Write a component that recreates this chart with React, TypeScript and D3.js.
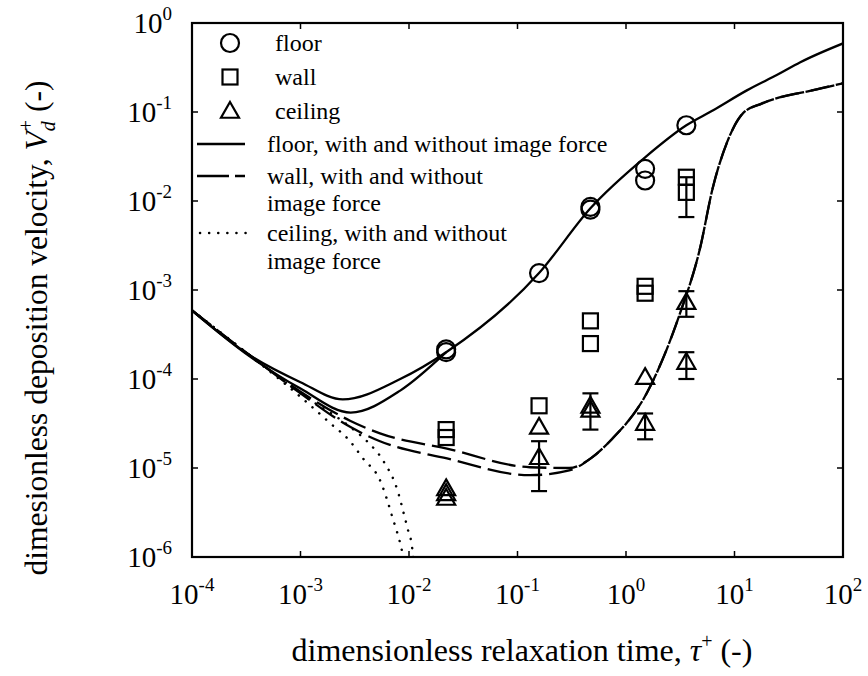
import React from "react";
import * as d3 from "d3";

// decade ticks
const xTickExp = [-4, -3, -2, -1, 0, 1, 2];
const yTickExp = [-6, -5, -4, -3, -2, -1, 0];

// measured data points
const floorTau = [0.022, 0.022, 0.158, 0.47, 0.47, 1.5, 1.5, 3.6];
const floorV = [2.0e-4, 2.15e-4, 1.55e-3, 8.0e-3, 8.6e-3, 0.023, 0.017, 0.071];

const wallTau = [0.022, 0.022, 0.158, 0.47, 0.47, 1.5, 1.5, 3.6, 3.6];
const wallV = [2.7e-5, 2.2e-5, 5.0e-5, 4.5e-4, 2.5e-4, 1.1e-3, 9.2e-4, 0.0185, 0.0125];
const wallLo = [null, null, null, null, null, null, null, null, 0.0066];
const wallHi = [null, null, null, null, null, null, null, null, 0.0185];

const ceilTau = [0.022, 0.022, 0.022, 0.158, 0.158, 0.47, 0.47, 1.5, 1.5, 3.6, 3.6];
const ceilV = [5.9e-6, 5.2e-6, 4.6e-6, 2.9e-5, 1.32e-5, 5.0e-5, 4.5e-5, 1.05e-4, 3.2e-5, 7.3e-4, 1.55e-4];
const ceilLo = [null, null, null, null, 5.5e-6, 2.7e-5, null, null, 2.1e-5, 5.0e-4, 1.0e-4];
const ceilHi = [null, null, null, null, 2.0e-5, 6.9e-5, null, null, 4.1e-5, 9.7e-4, 2.0e-4];

// model curves [tau, V+]
const floorCurveA: [number, number][] = [
  [1e-4, 5.9e-4], [3.4e-4, 1.85e-4], [1e-3, 9.2e-5], [2.45e-3, 5.9e-5], [8.3e-3, 1.0e-4],
  [0.022, 2.0e-4], [0.158, 1.55e-3], [0.47, 8.3e-3], [1.5, 0.031], [3.6, 0.071],
  [6.3, 0.104], [13, 0.175], [26, 0.27], [40, 0.36], [100, 0.59],
];
const floorCurveB: [number, number][] = [
  [1e-4, 5.9e-4], [3.4e-4, 1.8e-4], [1e-3, 7.8e-5], [2.9e-3, 4.2e-5], [8.3e-3, 7.4e-5], [0.022, 2.0e-4],
];
const wallCurveA: [number, number][] = [
  [1e-4, 5.9e-4], [3.4e-4, 1.85e-4], [1e-3, 7.2e-5], [2.86e-3, 3.4e-5], [5.4e-3, 2.45e-5],
  [0.0224, 1.65e-5], [0.13, 1.02e-5], [0.3, 1.0e-5], [0.48, 1.3e-5], [0.71, 2.0e-5], [1.56, 7.0e-5],
  [3.15, 5.5e-4], [4.8, 2.9e-3], [6.3, 0.014], [8.5, 0.045], [12, 0.097], [18, 0.125], [52, 0.175], [100, 0.21],
];
const wallCurveB: [number, number][] = [
  [1e-4, 5.9e-4], [3.4e-4, 1.85e-4], [1e-3, 6.9e-5], [2.86e-3, 2.9e-5], [5.4e-3, 2.0e-5],
  [0.0224, 1.28e-5], [0.13, 8.3e-6], [0.3, 9.4e-6], [0.48, 1.3e-5], [0.71, 2.0e-5], [1.56, 7.0e-5],
  [3.15, 5.5e-4], [4.8, 2.9e-3], [6.3, 0.014], [8.5, 0.045], [12, 0.097], [18, 0.125], [52, 0.175], [100, 0.21],
];
const ceilCurveA: [number, number][] = [
  [1e-4, 5.9e-4], [3.4e-4, 1.85e-4], [1e-3, 6.3e-5], [1.87e-3, 3.2e-5], [2.86e-3, 2.0e-5],
  [3.77e-3, 1.28e-5], [5.4e-3, 7.3e-6], [7.1e-3, 2.7e-6], [8.6e-3, 1.18e-6], [9.0e-3, 9e-7],
];
const ceilCurveB: [number, number][] = [
  [1e-4, 5.9e-4], [3.4e-4, 1.85e-4], [1e-3, 6.9e-5], [2.86e-3, 2.9e-5], [4.1e-3, 2.0e-5],
  [5.8e-3, 1.2e-5], [7.8e-3, 5.7e-6], [9.2e-3, 2.7e-6], [9.8e-3, 2.0e-6], [0.0107, 1.26e-6], [0.011, 9e-7],
];

const legendMarkers = ["floor", "wall", "ceiling"];
const legendLines = [
  ["floor, with and without image force"],
  ["wall, with and without", "image force"],
  ["ceiling, with and without", "image force"],
];

const W = 868;
const H = 676;
const margin = { top: 23, right: 25, bottom: 119, left: 192 };
const FONT = "'Liberation Serif', 'Times New Roman', serif";

const x = d3.scaleLog().domain([1e-4, 1e2]).range([margin.left, W - margin.right]);
const y = d3.scaleLog().domain([1e-6, 1]).range([H - margin.bottom, margin.top]);

const line = d3
  .line<[number, number]>()
  .x((d) => x(d[0]))
  .y((d) => y(d[1]))
  .curve(d3.curveMonotoneX);

const tri = (cx: number, cy: number, s = 9) =>
  `M${cx},${cy - s} L${cx + s},${cy + s * 0.75} L${cx - s},${cy + s * 0.75} Z`;

const ErrBar = ({ t, lo, hi }: { t: number; lo: number; hi: number }) => {
  const cx = x(t);
  return (
    <g stroke="#000" strokeWidth={2.2}>
      <line x1={cx} x2={cx} y1={y(lo)} y2={y(hi)} />
      <line x1={cx - 8} x2={cx + 8} y1={y(lo)} y2={y(lo)} />
      <line x1={cx - 8} x2={cx + 8} y1={y(hi)} y2={y(hi)} />
    </g>
  );
};

const Pow = ({ exp, sup = 19, dy = -13 }: { exp: number; sup?: number; dy?: number }) => (
  <>
    <tspan>10</tspan>
    <tspan fontSize={sup} dy={dy}>{exp}</tspan>
  </>
);

export default function App() {
  const x0 = margin.left;
  const x1 = W - margin.right;
  const y0 = H - margin.bottom;
  const y1 = margin.top;

  const legX = 230;
  const legTextX = 275;
  const lineTextX = 267;
  const markerY = [43, 77, 111];
  const lineY = [[144], [176, 203], [233, 261]];

  return (
    <svg width={W} height={H} style={{ position: "absolute", left: 0, top: 0, background: "#fff" }} fontFamily={FONT}>
      <defs>
        <clipPath id="plot">
          <rect x={x0} y={y1} width={x1 - x0} height={y0 - y1} />
        </clipPath>
      </defs>

      {/* curves */}
      <g clipPath="url(#plot)" fill="none" stroke="#000">
        <path d={line(floorCurveA) ?? ""} strokeWidth={2.3} />
        <path d={line(floorCurveB) ?? ""} strokeWidth={2.3} />
        <path d={line(wallCurveA) ?? ""} strokeWidth={2.3} strokeDasharray="24,7" />
        <path d={line(wallCurveB) ?? ""} strokeWidth={2.3} strokeDasharray="24,7" />
        <path d={line(ceilCurveA) ?? ""} strokeWidth={2.5} strokeDasharray="0.1,9" strokeLinecap="round" />
        <path d={line(ceilCurveB) ?? ""} strokeWidth={2.5} strokeDasharray="0.1,9" strokeLinecap="round" />
      </g>

      {/* markers */}
      <g fill="none" stroke="#000" strokeWidth={2.2}>
        {floorTau.map((t, i) => (
          <circle key={`f${i}`} cx={x(t)} cy={y(floorV[i])} r={9} />
        ))}
        {wallTau.map((t, i) => (
          <rect key={`w${i}`} x={x(t) - 7.5} y={y(wallV[i]) - 7.5} width={15} height={15} />
        ))}
        {ceilTau.map((t, i) => (
          <path key={`c${i}`} d={tri(x(t), y(ceilV[i]))} />
        ))}
      </g>
      {wallTau.map((t, i) =>
        wallLo[i] != null ? <ErrBar key={`we${i}`} t={t} lo={wallLo[i]!} hi={wallHi[i]!} /> : null
      )}
      {ceilTau.map((t, i) =>
        ceilLo[i] != null ? <ErrBar key={`ce${i}`} t={t} lo={ceilLo[i]!} hi={ceilHi[i]!} /> : null
      )}

      {/* frame and ticks */}
      <rect x={x0} y={y1} width={x1 - x0} height={y0 - y1} fill="none" stroke="#000" strokeWidth={2.2} />
      {xTickExp.map((e) => {
        const px = x(Math.pow(10, e));
        return (
          <g key={`xt${e}`} stroke="#000" strokeWidth={1.5}>
            <line x1={px} x2={px} y1={y0} y2={y0 - 6} />
            <line x1={px} x2={px} y1={y1} y2={y1 + 6} />
          </g>
        );
      })}
      {yTickExp.map((e) => {
        const py = y(Math.pow(10, e));
        return (
          <g key={`yt${e}`} stroke="#000" strokeWidth={1.5}>
            <line x1={x0} x2={x0 + 6} y1={py} y2={py} />
            <line x1={x1} x2={x1 - 6} y1={py} y2={py} />
          </g>
        );
      })}

      {/* tick labels */}
      {xTickExp.map((e) => (
        <text key={`xl${e}`} x={x(Math.pow(10, e))} y={604} textAnchor="middle" fontSize={29}>
          <Pow exp={e} />
        </text>
      ))}
      {yTickExp.map((e) => (
        <text key={`yl${e}`} x={172} y={y(Math.pow(10, e)) + 10} textAnchor="end" fontSize={29}>
          <Pow exp={e} />
        </text>
      ))}

      {/* axis titles */}
      <text x={522} y={661} textAnchor="middle" fontSize={32}>
        dimensionless relaxation time, <tspan fontStyle="italic">τ</tspan>
        <tspan fontSize={20} dy={-13}>+</tspan>
        <tspan dy={13}> (-)</tspan>
      </text>
      <text transform="translate(47,328) rotate(-90)" textAnchor="middle" fontSize={31.5}>
        dimesionless deposition velocity, <tspan fontStyle="italic">V</tspan>
        <tspan fontSize={20} fontStyle="italic" dy={8}>d</tspan>
        <tspan fontSize={20} dx={-10} dy={-22}>+</tspan>
        <tspan dy={14}> (-)</tspan>
      </text>

      {/* legend */}
      <g fontSize={24}>
        <circle cx={legX} cy={markerY[0]} r={9} fill="none" stroke="#000" strokeWidth={2.2} />
        <rect x={legX - 7.5} y={markerY[1] - 7.5} width={15} height={15} fill="none" stroke="#000" strokeWidth={2.2} />
        <path d={tri(legX, markerY[2])} fill="none" stroke="#000" strokeWidth={2.2} />
        {legendMarkers.map((l, i) => (
          <text key={l} x={legTextX} y={markerY[i] + 8}>{l}</text>
        ))}
        <line x1={197} x2={245} y1={lineY[0][0]} y2={lineY[0][0]} stroke="#000" strokeWidth={2.3} />
        <line x1={197} x2={245} y1={lineY[1][0]} y2={lineY[1][0]} stroke="#000" strokeWidth={2.3} strokeDasharray="32,6" />
        <line x1={200} x2={250} y1={lineY[2][0]} y2={lineY[2][0]} stroke="#000" strokeWidth={2.5} strokeDasharray="0.1,9" strokeLinecap="round" />
        {legendLines.map((rows, i) =>
          rows.map((r, j) => (
            <text key={`${i}-${j}`} x={lineTextX} y={lineY[i][j] + 8}>{r}</text>
          ))
        )}
      </g>
    </svg>
  );
}
